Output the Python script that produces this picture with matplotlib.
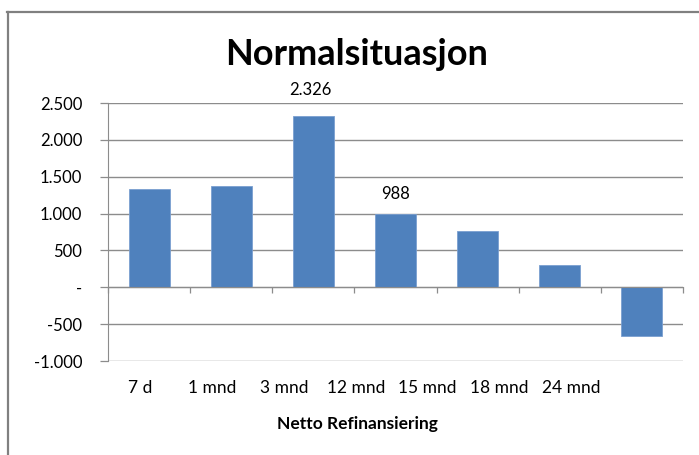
import matplotlib
matplotlib.use("Agg")
import matplotlib.pyplot as plt
from matplotlib.lines import Line2D
import numpy as np

plt.rcParams['font.family'] = ['Lato', 'DejaVu Sans']

kategorier = ["7 d", "1 mnd", "3 mnd", "12 mnd", "15 mnd", "18 mnd", "24 mnd"]
verdier = [1339, 1370, 2326, 988, 765, 308, -665]
merket = [2, 3]  # stolper med verdi skrevet over
y_ticks = [-1000, -500, 0, 500, 1000, 1500, 2000, 2500]
y_labels = ["-1.000", "-500", "-", "500", "1.000", "1.500", "2.000", "2.500"]

W, H = 699, 455
fig = plt.figure(figsize=(W / 100, H / 100), dpi=100)
ax = fig.add_axes([108 / W, 1 - 361 / H, 575 / W, 258 / H])

grå = "#8c8c8c"
blå = "#4f81bd"

x = np.arange(len(kategorier))
ax.bar(x, verdier, width=0.5, color=blå, edgecolor="#7a9fd0", linewidth=0.6, zorder=3)

ax.set_xlim(-0.5, len(kategorier) - 0.5)
ax.set_ylim(-1000, 2500)
ax.set_yticks(y_ticks)
ax.set_yticklabels(y_labels, fontsize=12)
ax.yaxis.grid(True, color=grå, linewidth=1.0, zorder=0)
ax.tick_params(axis="y", direction="out", length=5.5, width=0.9, color=grå, pad=13)

# x-aksen ligger på null med merker mellom kategoriene
ax.spines["bottom"].set_position(("data", 0))
ax.spines["bottom"].set_color(grå)
ax.spines["bottom"].set_zorder(4)
ax.set_xticks(np.arange(-0.5, len(kategorier)))
ax.set_xticklabels([])
ax.tick_params(axis="x", direction="out", length=4, width=0.9, color=grå)
ax.spines["left"].set_color(grå)
for s in ["top", "right"]:
    ax.spines[s].set_visible(False)

for i in merket:
    v = verdier[i]
    tekst = f"{v:,}".replace(",", ".")
    ax.annotate(tekst, (x[i], v), xytext=(-2 if i == 2 else 0, 13 if i == 2 else 9),
                textcoords="offset points", ha="center", va="bottom", fontsize=12)

# kategorinavn under plottet
for i, k in enumerate(kategorier):
    fig.text((140 + 71.9 * i) / W, 1 - 388 / H, k, ha="center", va="center", fontsize=12.5)

fig.text(357 / W, 1 - 424 / H, "Netto Refinansiering", ha="center", va="center",
         fontsize=12.5, fontweight="bold")
fig.text(357 / W, 1 - 65 / H, "Normalsituasjon", ha="center", va="baseline",
         fontsize=26, fontweight="bold")

# ramme rundt diagrammet
fig.add_artist(Line2D([7.5 / W, 7.5 / W], [0, 1 - 12 / H], color="#808080", lw=1.6))
fig.add_artist(Line2D([7 / W, 1], [1 - 12 / H, 1 - 12 / H], color="#808080", lw=1.6))

fig.savefig("out.png", dpi=100)
